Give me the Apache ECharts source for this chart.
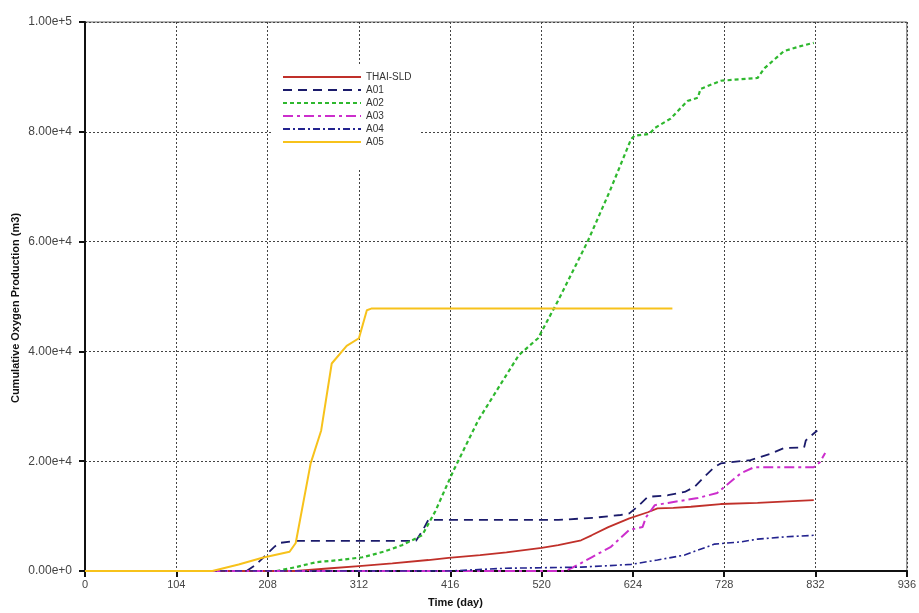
<!DOCTYPE html>
<html>
<head>
<meta charset="utf-8">
<script src="https://cdn.jsdelivr.net/npm/echarts@6/dist/echarts.min.js"></script>
<style>
html,body{margin:0;padding:0;background:#fff;}
#chart{width:919px;height:613px;}
</style>
</head>
<body>
<div id="chart"></div>
<script>
const seriesNames = ['THAI-SLD', 'A01', 'A02', 'A03', 'A04', 'A05'];
const xTicks = [0, 104, 208, 312, 416, 520, 624, 728, 832, 936];
const yTicks = [0, 20000, 40000, 60000, 80000, 100000];

const thaiSLD = [[0,0],[240,0],[280,500],[312,900],[350,1400],[391,2000],[414,2400],[450,2900],[480,3400],[520,4200],[539,4700],[565,5600],[577,6500],[596,8000],[620,9600],[641,10700],[652,11400],[670,11500],[690,11700],[724,12200],[766,12400],[800,12700],[830,12900]];
const a01 = [[184,0],[195,1200],[206,2900],[215,4300],[221,5100],[240,5500],[300,5500],[377,5500],[385,7500],[391,9300],[450,9300],[539,9300],[580,9700],[610,10200],[620,10500],[630,11800],[641,13500],[664,13800],[683,14400],[694,15300],[705,17100],[716,18800],[724,19600],[758,20200],[780,21300],[796,22400],[819,22500],[821,23800],[834,25600]];
const a02 = [[218,0],[240,700],[263,1600],[290,2000],[316,2500],[340,3500],[361,4700],[384,6500],[399,10900],[420,18400],[448,27500],[476,34700],[494,39300],[516,42400],[539,49300],[573,60200],[598,69300],[622,78700],[626,79300],[643,79600],[649,80700],[667,82400],[686,85600],[698,86200],[701,87800],[724,89300],[766,89800],[774,91600],[796,94700],[815,95600],[830,96200]];
const a03 = [[0,0],[547,0],[560,1000],[577,2500],[599,4400],[620,7500],[635,8000],[639,9800],[649,12000],[664,12400],[698,13300],[720,14200],[728,15300],[747,17800],[762,18900],[830,18900],[837,19800],[843,21500]];
const a04 = [[0,0],[414,0],[479,500],[565,700],[622,1200],[652,2000],[683,2900],[698,3800],[717,4900],[747,5300],[766,5800],[796,6200],[830,6500]];
const a05 = [[0,0],[145,0],[175,1200],[202,2400],[233,3500],[240,5100],[257,19600],[269,25600],[281,37800],[298,41000],[312,42400],[321,47500],[326,47800],[669,47800]];

const dataList = [thaiSLD, a01, a02, a03, a04, a05];
const colors = ['#c0302a', '#1b1b6b', '#2eb82e', '#cc2ecc', '#23238f', '#f7c21b'];
const dashes = ['solid', [9, 6], [4, 3], [10, 4, 3, 4], [7, 3, 2, 3], 'solid'];
const widths = [1.8, 1.8, 2.2, 2, 1.6, 2];

const chart = echarts.init(document.getElementById('chart'), null, {renderer: 'canvas'});
const fontFam = '"Liberation Sans", Arial, sans-serif';

const series = seriesNames.map((n, i) => ({
  name: n,
  type: 'line',
  data: dataList[i],
  showSymbol: false,
  symbol: 'none',
  smooth: false,
  color: colors[i],
  lineStyle: {color: colors[i], width: widths[i], type: dashes[i]},
  z: 3 + i,
  animation: false
}));

chart.setOption({
  animation: false,
  backgroundColor: '#fff',
  grid: {left: 85, right: 10, top: 22, bottom: 42, show: true, borderColor: '#666', borderWidth: 1, backgroundColor: 'transparent'},
  legend: {
    orient: 'vertical',
    left: 272,
    top: 65,
    data: seriesNames,
    itemWidth: 78,
    itemHeight: 10,
    itemGap: 3,
    padding: [7, 8, 22, 10],
    backgroundColor: '#fff',
    itemStyle: {opacity: 0, borderWidth: 0},
    textStyle: {fontFamily: fontFam, fontSize: 10, color: '#333', padding: [0, 0, 0, 0]},
    z: 20
  },
  xAxis: {
    type: 'value',
    min: 0, max: 936, interval: 104,
    axisLine: {show: true, lineStyle: {color: '#111', width: 2}},
    axisTick: {show: true, length: 6, lineStyle: {color: '#111', width: 2}},
    axisLabel: {fontFamily: fontFam, fontSize: 11, color: '#444', margin: 8,
      formatter: v => xTicks.includes(v) ? String(v) : ''},
    splitLine: {show: true, lineStyle: {color: '#444', width: 1, type: [2, 2]}}
  },
  yAxis: {
    type: 'value',
    min: 0, max: 100000, interval: 20000,
    axisLine: {show: true, lineStyle: {color: '#111', width: 2}},
    axisTick: {show: true, length: 6, lineStyle: {color: '#111', width: 2}},
    axisLabel: {fontFamily: fontFam, fontSize: 12, color: '#444', margin: 13,
      formatter: v => yTicks.includes(v) ? v.toExponential(2) : ''},
    splitLine: {show: true, lineStyle: {color: '#444', width: 1, type: [2, 2]}}
  },
  graphic: [
    {type: 'text', left: 428, top: 597, style: {text: 'Time (day)', font: 'bold 11px ' + fontFam, fill: '#111'}},
    {type: 'text', x: 16, y: 308, rotation: Math.PI / 2, style: {text: 'Cumulative Oxygen Production (m3)', font: 'bold 11px ' + fontFam, fill: '#111', align: 'center', verticalAlign: 'middle'}}
  ],
  series: series
});
</script>
</body>
</html>
